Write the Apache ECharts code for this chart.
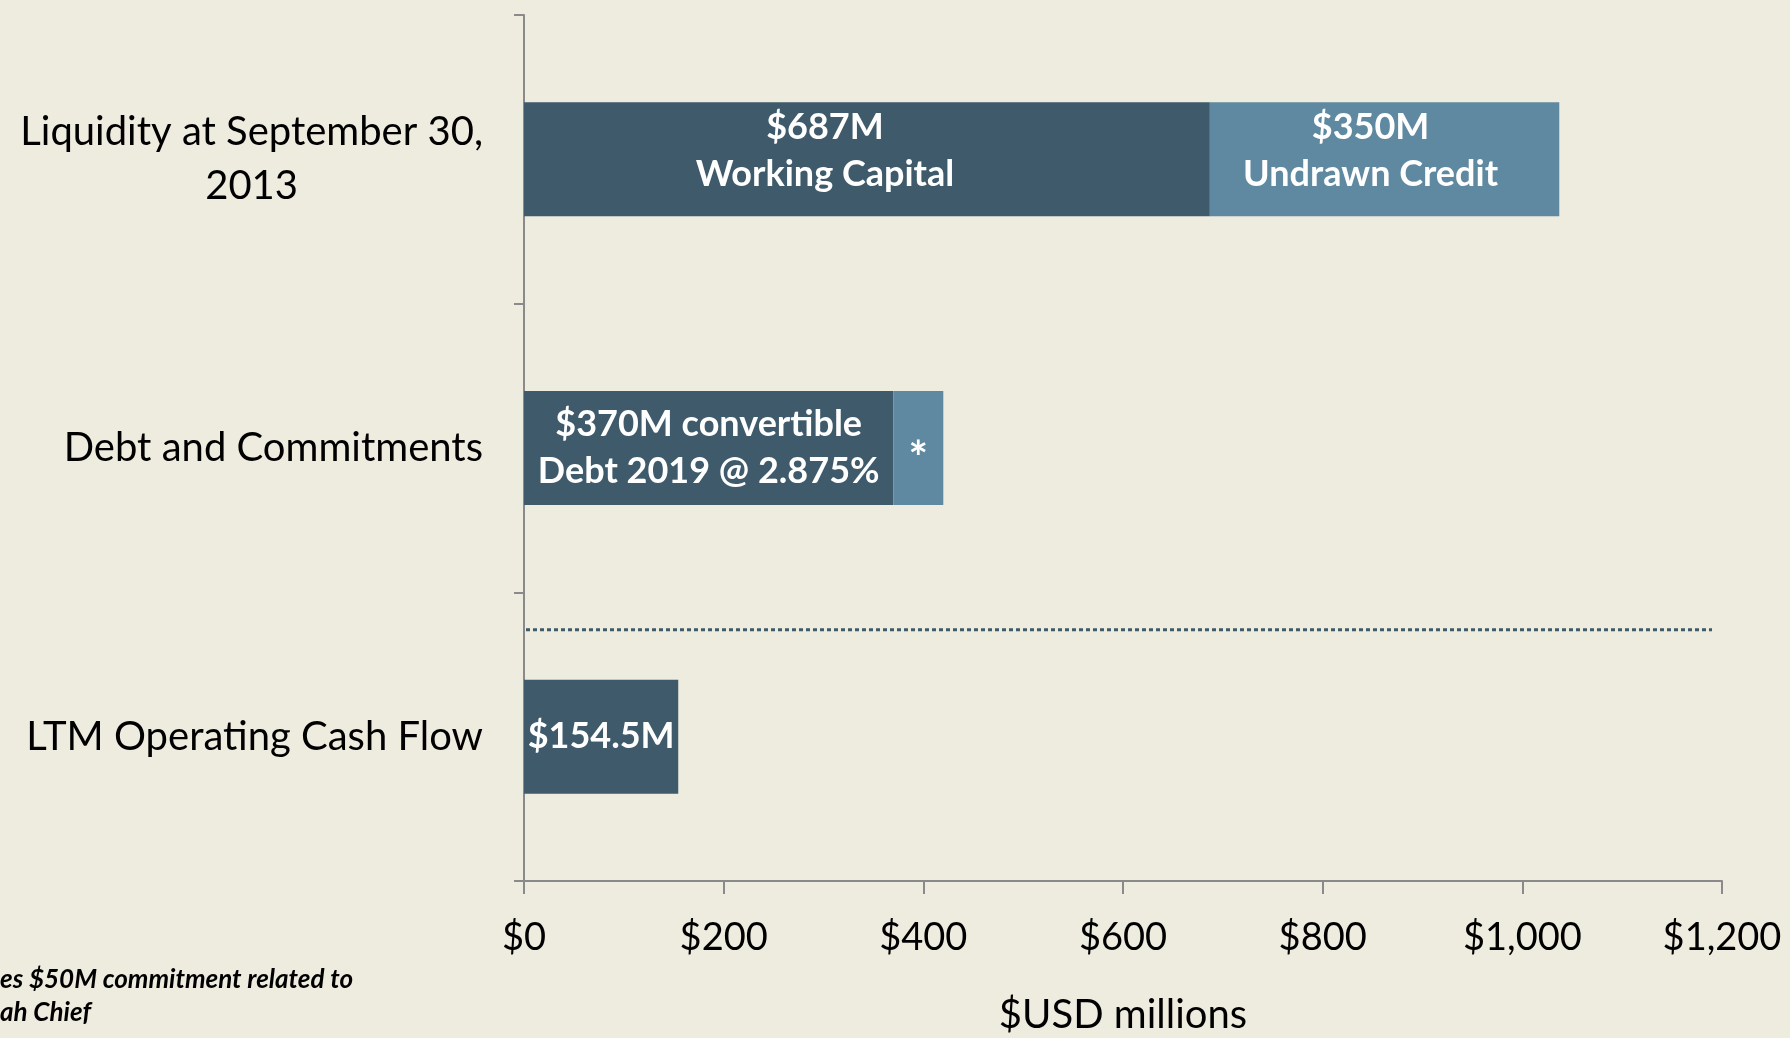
<!DOCTYPE html>
<html>
<head>
<meta charset="utf-8">
<script src="https://cdn.jsdelivr.net/npm/echarts@6/dist/echarts.min.js"></script>
<style>
html,body{margin:0;padding:0;background:#eeebdf;}
#container{width:1790px;height:1038px;}
</style>
</head>
<body>
<div id="container"></div>
<script>
// categories, top to bottom
var categories = ['Liquidity at September 30, 2013', 'Debt and Commitments', 'LTM Operating Cash Flow'];
// dark segment (working capital / convertible debt / cash flow)
var darkValues = [687, 370, 154.5];
var darkLabels = ['$687M\nWorking Capital', '$370M convertible\nDebt 2019 @ 2.875%', '$154.5M'];
// light segment (undrawn credit / commitment)
var lightValues = [350, 50, null];
var lightLabels = ['$350M\nUndrawn Credit', '{star|*}', ''];
// x axis
var xTicks = [0, 200, 400, 600, 800, 1000, 1200];
// dotted separator between debt and cash flow (x range, category position)
var sepX = [2, 1190];
var sepY = 1.63;

var dark = '#3e5a6b', light = '#5f89a1';
var font = 'Lato';

function moneyFmt(v){
	return '$' + String(v).replace(/\B(?=(\d{3})+(?!\d))/g, ',');
}

var dom = document.getElementById("container");
var myChart = echarts.init(dom);
var option = {
	backgroundColor: '#eeebdf',
	animation: false,
	textStyle: { fontFamily: font },
	grid: { left: 524, right: 68, top: 15, bottom: 157, outerBoundsMode: 'none', containLabel: false },
	xAxis: {
		type: 'value',
		min: xTicks[0],
		max: xTicks[xTicks.length - 1],
		interval: 200,
		splitLine: { show: false },
		axisLine: { show: true, onZero: false, lineStyle: { color: '#8a8a8a', width: 2 } },
		axisTick: { show: true, length: 13, lineStyle: { color: '#8a8a8a', width: 2 } },
		axisLabel: { formatter: moneyFmt, fontSize: 38, color: '#000', margin: 38, fontFamily: font },
		name: '$USD millions',
		nameLocation: 'middle',
		nameGap: 114,
		nameTextStyle: { fontSize: 40, color: '#000', fontFamily: font }
	},
	yAxis: [{
		type: 'category',
		data: categories,
		inverse: true,
		axisLine: { show: true, lineStyle: { color: '#8a8a8a', width: 2 } },
		axisTick: { show: true, length: 10, lineStyle: { color: '#8a8a8a', width: 2 } },
		axisLabel: {
			margin: 41,
			color: '#000',
			fontSize: 40,
			fontFamily: font,
			formatter: function(v){
				var parts = v.split(', ');
				if (parts.length > 1) {
					return '{c|' + parts[0] + ',}\n{c|' + parts[1] + '}';
				}
				return v;
			},
			rich: { c: { align: 'center', fontSize: 40, lineHeight: 54, color: '#000', fontFamily: font } }
		}
	}, {
		type: 'value',
		min: -0.5,
		max: 2.5,
		inverse: true,
		show: false
	}],
	series: [
		{
			name: 'dark',
			type: 'bar',
			stack: 'total',
			barWidth: 114,
			data: darkValues,
			itemStyle: { color: dark },
			label: {
				show: true,
				position: 'inside',
				color: '#fff',
				fontSize: 36,
				fontWeight: 'bold',
				lineHeight: 47,
				fontFamily: font,
				formatter: function(p){ return darkLabels[p.dataIndex]; }
			},
			labelLayout: function(p){
				if (p.dataIndex === 0) return { dx: -42, dy: -8 };
				return {};
			}
		},
		{
			name: 'light',
			type: 'bar',
			stack: 'total',
			barWidth: 114,
			data: lightValues,
			itemStyle: { color: light },
			label: {
				show: true,
				position: 'inside',
				color: '#fff',
				fontSize: 36,
				fontWeight: 'bold',
				lineHeight: 47,
				fontFamily: font,
				formatter: function(p){ return lightLabels[p.dataIndex]; },
				rich: { star: { fontSize: 46, fontWeight: 'bold', color: '#fff', fontFamily: font, padding: [22, 0, 0, 0] } }
			},
			labelLayout: function(p){
				if (p.dataIndex === 0) return { dx: -14, dy: -8 };
				return {};
			}
		},
		{
			name: 'separator',
			type: 'line',
			yAxisIndex: 1,
			symbol: 'none',
			silent: true,
			data: [[sepX[0], sepY], [sepX[1], sepY]],
			lineStyle: { color: dark, width: 3, type: [4, 3] }
		}
	],
	graphic: [{
		type: 'text',
		left: 0,
		top: 963,
		style: {
			text: 'es $50M commitment related to\nah Chief',
			fontFamily: font,
			fontSize: 26,
			fontWeight: 'bold',
			fontStyle: 'italic',
			lineHeight: 33,
			fill: '#000'
		}
	}]
};
if (option && typeof option === "object") {
	myChart.setOption(option, true);
}
</script>
</body>
</html>
